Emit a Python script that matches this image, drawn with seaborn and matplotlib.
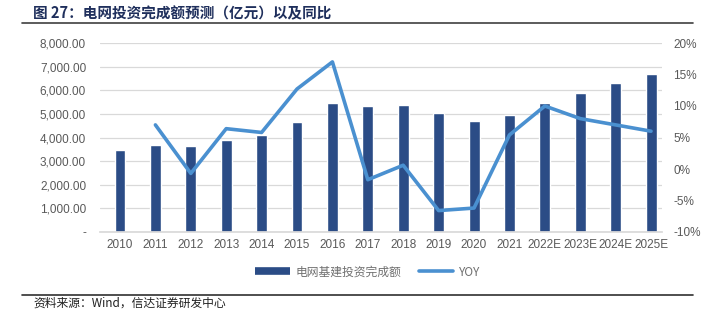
import numpy as np
import pandas as pd
import matplotlib
matplotlib.use("Agg")
import matplotlib.pyplot as plt
import seaborn as sns
from matplotlib.lines import Line2D
from matplotlib.ticker import FuncFormatter, MultipleLocator

years = ["2010", "2011", "2012", "2013", "2014", "2015", "2016", "2017",
         "2018", "2019", "2020", "2021", "2022E", "2023E", "2024E", "2025E"]
invest = [3470, 3680, 3650, 3895, 4110, 4640, 5440, 5340,
          5370, 5020, 4700, 4950, 5455, 5890, 6290, 6680]
yoy = [np.nan, 7.0, -0.7, 6.4, 5.8, 12.7, 17.0, -1.7,
       0.6, -6.6, -6.2, 5.4, 10.0, 8.0, 7.0, 6.0]

bar_label = "电网基建投资完成额"
line_label = "YOY"
title = "图 27：电网投资完成额预测（亿元）以及同比"
source = "资料来源：Wind，信达证券研发中心"

sns.set_theme(style="white")
plt.rcParams["font.family"] = ["Noto Sans CJK SC", "DejaVu Sans"]

BAR_C = "#2B4C86"
LINE_C = "#4A90D0"
TXT_C = "#595959"

fig = plt.figure(figsize=(7.08, 3.23), dpi=100)
W, H = 708, 323
ax = fig.add_axes([100 / W, 1 - 232 / H, (662 - 100) / W, (232 - 43) / H])

df = pd.DataFrame({"year": years, "invest": invest, "yoy": yoy, "pos": np.arange(len(years))})
sns.barplot(data=df, x="year", y="invest", color=BAR_C, width=0.31,
            saturation=1, ax=ax, zorder=2)
ax.set_ylim(0, 8000)
ax.yaxis.set_major_locator(MultipleLocator(1000))
ax.yaxis.set_major_formatter(FuncFormatter(lambda v, p: "-" if v == 0 else f"{v:,.2f}"))
ax.set_xlim(-0.565, 15.31)
ax.grid(axis="y", color="#D9D9D9", linewidth=0.9, zorder=0)
ax.set_axisbelow(True)
for s in ["top", "right", "left"]:
    ax.spines[s].set_visible(False)
ax.spines["bottom"].set_color("#D9D9D9")
ax.set_xlabel("")
ax.set_ylabel("")
ax.tick_params(axis="both", colors=TXT_C, labelsize=8.5, length=0, pad=5)
ax.tick_params(axis="y", pad=10)
for lab in ax.get_xticklabels() + ax.get_yticklabels():
    lab.set_family(["Liberation Sans", "DejaVu Sans"])

ax2 = ax.twinx()
sns.lineplot(data=df.dropna(), x="pos", y="yoy", color=LINE_C, linewidth=2.6, ax=ax2)
ax2.set_ylim(-10, 20)
ax2.yaxis.set_major_locator(MultipleLocator(5))
ax2.yaxis.set_major_formatter(FuncFormatter(lambda v, p: f"{v:.0f}%"))
for s in ["top", "right", "left", "bottom"]:
    ax2.spines[s].set_visible(False)
ax2.set_xlabel("")
ax2.set_ylabel("")
ax2.tick_params(axis="y", colors=TXT_C, labelsize=8.5, length=0, pad=8)
for lab in ax2.get_yticklabels():
    lab.set_family(["Liberation Sans", "DejaVu Sans"])
ax2.set_xlim(-0.565, 15.31)

handles = [Line2D([0], [0], color=BAR_C, linewidth=5.5, solid_capstyle="butt"),
           Line2D([0], [0], color=LINE_C, linewidth=2.6)]
leg = fig.legend(handles, [bar_label, line_label], loc="center",
                 bbox_to_anchor=(368 / W, 1 - 272 / H), ncol=2, frameon=False,
                 fontsize=8.5, handlelength=2.9, columnspacing=1.5, handletextpad=0.5)
for t in leg.get_texts():
    t.set_color("#6F6F6F")

fig.text(33 / W, 1 - 13 / H, title, fontsize=10.5, fontweight="bold",
         color="#1F2F5C", va="center", ha="left")
fig.add_artist(Line2D([22 / W, 693 / W], [1 - 23 / H, 1 - 23 / H],
                      color="#404040", linewidth=1.2))
fig.add_artist(Line2D([22 / W, 693 / W], [1 - 294.5 / H, 1 - 294.5 / H],
                      color="#303030", linewidth=1.2))
fig.text(33 / W, 1 - 303 / H, source, fontsize=8.5, style="italic",
         color="#202020", va="center", ha="left")

fig.savefig("out.png", dpi=100)
